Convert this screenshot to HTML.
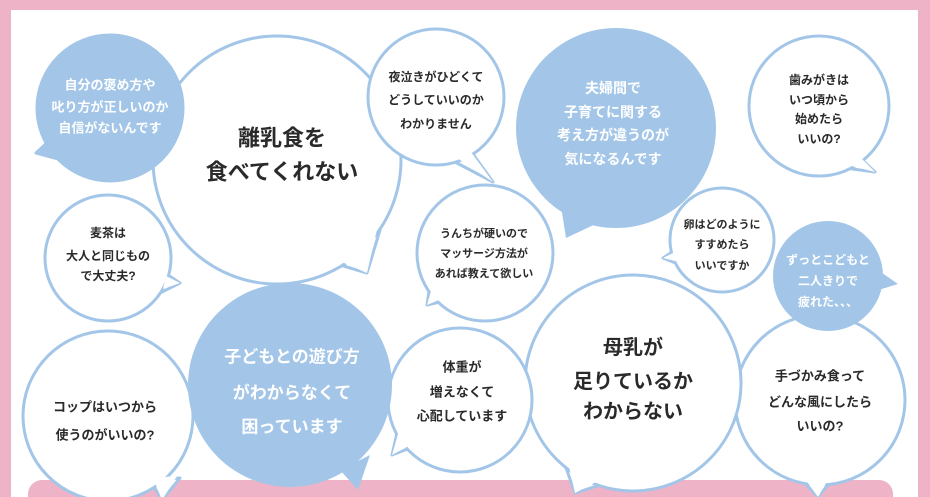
<!DOCTYPE html>
<html><head><meta charset="utf-8"><style>
html,body{margin:0;padding:0;background:#fff;}
svg{display:block;}
text{font-family:"Liberation Sans","Noto Sans CJK JP",sans-serif;font-weight:bold;text-anchor:middle;dominant-baseline:central;}
.d{fill:#2a2a2a;}
.w{fill:#fff;}
</style></head><body>
<svg width="930" height="497" viewBox="0 0 930 497" xmlns="http://www.w3.org/2000/svg">
<rect x="0" y="0" width="930" height="497" fill="#eeb3c7"/>
<rect x="11" y="10" width="907" height="487" fill="#fff"/>
<rect x="28" y="480" width="865" height="40" rx="14" fill="#eeb3c7"/>

<g stroke="#a3c6e8" stroke-width="3" stroke-linejoin="round">
<!-- 離乳食 -->
<polygon points="380,230 367,273 340,265" fill="#fff"/>
<circle cx="277" cy="160" r="124" fill="#fff"/>
<polygon points="378,225 367,273 342,262" fill="#fff" stroke="none"/>
<!-- blue1 -->
<polygon points="50,140 36,153 62,160" fill="#a3c6e8"/>
<circle cx="110" cy="108" r="73" fill="#a3c6e8"/>
<!-- 夜泣き -->
<polygon points="470,150 493,182 455,162" fill="#fff"/>
<circle cx="436" cy="97" r="68" fill="#fff"/>
<polygon points="468,148 493,182 457,158" fill="#fff" stroke="none"/>
<!-- 夫婦間 -->
<polygon points="560,200 566,238 600,222" fill="#a3c6e8" stroke="none"/>
<circle cx="616" cy="128" r="100" fill="#a3c6e8" stroke="none"/>
<!-- 歯みがき -->
<polygon points="860,158 875,172 845,168" fill="#fff"/>
<circle cx="819" cy="106" r="70" fill="#fff"/>
<polygon points="858,155 875,172 848,165" fill="#fff" stroke="none"/>
<!-- 麦茶 -->
<polygon points="168,275 180,283 162,292" fill="#fff"/>
<circle cx="108" cy="258" r="63" fill="#fff"/>
<polygon points="166,276 180,283 163,289" fill="#fff" stroke="none"/>
<!-- うんち -->
<polygon points="430,285 427,305 448,300" fill="#fff"/>
<circle cx="485" cy="253" r="68" fill="#fff"/>
<polygon points="433,284 427,305 446,297" fill="#fff" stroke="none"/>
<!-- 卵 -->
<polygon points="675,250 663,258 678,264" fill="#fff"/>
<circle cx="722" cy="240" r="52" fill="#fff"/>
<polygon points="677,251 663,258 679,262" fill="#fff" stroke="none"/>
<!-- 手づかみ -->
<polygon points="800,478 818,497 832,480" fill="#fff"/>
<circle cx="820" cy="400" r="85" fill="#fff"/>
<polygon points="803,476 818,497 829,478" fill="#fff" stroke="none"/>
<!-- ずっと -->
<polygon points="875,268 898,284 872,292" fill="#a3c6e8" stroke="none"/>
<circle cx="828" cy="276" r="55" fill="#a3c6e8" stroke="none"/>
<!-- 母乳 -->
<polygon points="565,465 575,493 600,485" fill="#fff"/>
<circle cx="633" cy="383" r="108" fill="#fff"/>
<polygon points="568,462 575,493 598,481" fill="#fff" stroke="none"/>
<!-- 体重 -->
<polygon points="400,420 392,455 418,445" fill="#fff"/>
<circle cx="460" cy="400" r="72" fill="#fff"/>
<polygon points="402,420 392,455 416,442" fill="#fff" stroke="none"/>
<!-- コップ -->
<polygon points="150,480 162,500 180,478" fill="#fff"/>
<circle cx="108" cy="416" r="85" fill="#fff"/>
<polygon points="153,478 162,500 177,476" fill="#fff" stroke="none"/>
<!-- 遊び方 -->
<polygon points="340,470 358,490 370,455" fill="#a3c6e8" stroke="none"/>
<circle cx="290" cy="385" r="102" fill="#a3c6e8" stroke="none"/>
</g>

<g style="font-size:13px" class="w">
<text x="110" y="85">自分の褒め方や</text>
<text x="110" y="107">叱り方が正しいのか</text>
<text x="110" y="128">自信がないんです</text>
</g>
<g style="font-size:22px" class="d">
<text x="282" y="138">離乳食を</text>
<text x="282" y="172">食べてくれない</text>
</g>
<g style="font-size:12px" class="d">
<text x="436" y="77">夜泣きがひどくて</text>
<text x="436" y="100">どうしていいのか</text>
<text x="436" y="124">わかりません</text>
</g>
<g style="font-size:14px" class="w">
<text x="613" y="88">夫婦間で</text>
<text x="613" y="112">子育てに関する</text>
<text x="613" y="135">考え方が違うのが</text>
<text x="613" y="159">気になるんです</text>
</g>
<g style="font-size:12px" class="d">
<text x="819" y="80">歯みがきは</text>
<text x="819" y="100">いつ頃から</text>
<text x="819" y="119">始めたら</text>
<text x="819" y="139">いいの?</text>
</g>
<g style="font-size:12px" class="d">
<text x="108" y="233">麦茶は</text>
<text x="108" y="256">大人と同じもの</text>
<text x="108" y="276">で大丈夫?</text>
</g>
<g style="font-size:11px" class="d">
<text x="484" y="234">うんちが硬いので</text>
<text x="484" y="254">マッサージ方法が</text>
<text x="484" y="274">あれば教えて欲しい</text>
</g>
<g style="font-size:11px" class="d">
<text x="722" y="225">卵はどのように</text>
<text x="722" y="245">すすめたら</text>
<text x="722" y="266">いいですか</text>
</g>
<g style="font-size:12px" class="w">
<text x="828" y="260">ずっとこどもと</text>
<text x="828" y="281">二人きりで</text>
<text x="828" y="302">疲れた、、、</text>
</g>
<g style="font-size:17px" class="w">
<text x="292" y="357">子どもとの遊び方</text>
<text x="292" y="393">がわからなくて</text>
<text x="292" y="427">困っています</text>
</g>
<g style="font-size:13px" class="d">
<text x="105" y="407">コップはいつから</text>
<text x="105" y="435">使うのがいいの?</text>
</g>
<g style="font-size:13px" class="d">
<text x="462" y="367">体重が</text>
<text x="462" y="392">増えなくて</text>
<text x="462" y="416">心配しています</text>
</g>
<g style="font-size:20px" class="d">
<text x="633" y="348">母乳が</text>
<text x="633" y="382">足りているか</text>
<text x="633" y="412">わからない</text>
</g>
<g style="font-size:13px" class="d">
<text x="820" y="376">手づかみ食って</text>
<text x="820" y="402">どんな風にしたら</text>
<text x="820" y="426">いいの?</text>
</g>
</svg>
</body></html>
